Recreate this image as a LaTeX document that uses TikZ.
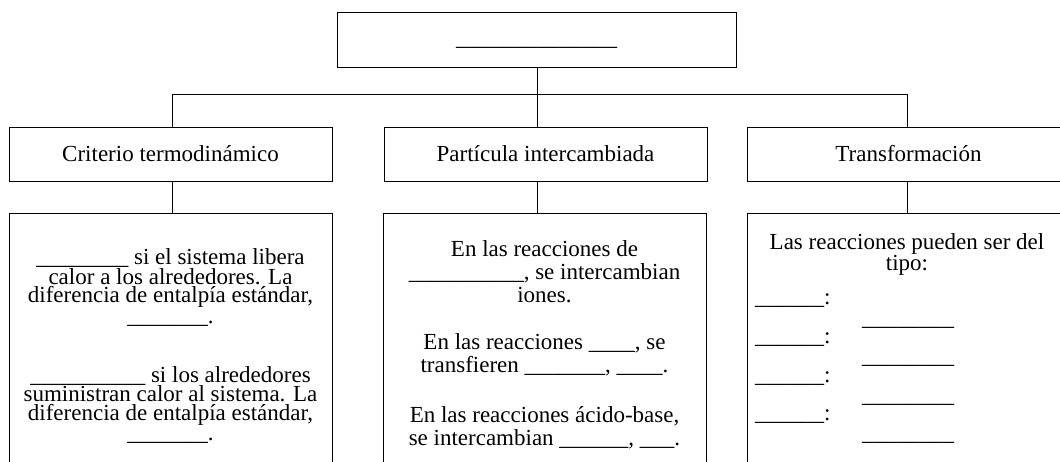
\documentclass[tikz,border=0pt]{standalone}
\usepackage{fontspec}
\setmainfont{Liberation Serif}
\usetikzlibrary{positioning}

\begin{document}
\begin{tikzpicture}[x=1pt,y=-1pt]
  \tikzset{
    caja/.style={draw,line width=0.9pt,rectangle,inner sep=0pt,
      minimum width=323pt,minimum height=54pt,text height=18pt,text depth=3pt,
      font=\fontsize{23}{23}\selectfont},
    cuerpo/.style={draw,line width=0.9pt,rectangle,inner sep=0pt,anchor=north,
      minimum width=323pt,minimum height=270pt},
    texto/.style={inner sep=0pt,align=center,font=\fontsize{23}{18.5}\selectfont},
    linea/.style={line width=0.9pt}
  }
  % a blank to be filled in, n underscores long
  \newcommand\hueco[1]{\foreach\k in {1,...,#1}{\_}}

  \useasboundingbox (0,0) rectangle (1060,462);
  \clip (0,0) rectangle (1060,462);

  % top box and the three headings
  \node[caja,minimum width=399pt,minimum height=55pt,text height=17pt,text depth=4pt]
    (titulo) at (536.5,39.5) {\hueco{14}};
  \node[caja] (etiqueta1) at (170.5,154) {Criterio termodinámico};
  \node[caja] (etiqueta2) at (545.5,154) {Partícula intercambiada};
  \node[caja] (etiqueta3) at (908.5,154) {Transformación};

  % the boxes below them, cut off by the page
  \node[cuerpo] (cuerpo1) at (170.5,213) {};
  \node[cuerpo] (cuerpo2) at (544.5,213) {};
  \node[cuerpo] (cuerpo3) at (908.5,213) {};

  % tree lines
  \coordinate (rama1) at (172,94);
  \coordinate (rama2) at (537,94);
  \coordinate (rama3) at (907,94);
  \draw[linea] (titulo.south -| rama2) -- (rama2);
  \draw[linea] (rama1) -- (rama3);
  \foreach \n in {1,2,3} {
    \draw[linea] (rama\n) -- (rama\n |- etiqueta\n.north);
    \draw[linea] (rama\n |- etiqueta\n.south) -- (rama\n |- cuerpo\n.north);
  }

  % texts
  \node[texto,anchor=north] (parrafo1) at (170.5,248)
    {\hueco{8} si el sistema libera\\ calor a los alrededores. La\\
     diferencia de entalpía estándar,\\[2pt] \hueco{7}.\\[39pt]
     \hueco{10} si los alrededores\\ suministran calor al sistema. La\\
     diferencia de entalpía estándar,\\[2pt] \hueco{7}.};
  \node[texto,font=\fontsize{23}{23}\selectfont,anchor=north] (parrafo2) at (544.5,240)
    {En las reacciones de\\ \hueco{10}, se intercambian\\ iones.\\[24pt]
     En las reacciones \hueco{4}, se\\ transfieren \hueco{7}, \hueco{4}.\\[27pt]
     En las reacciones ácido-base,\\ se intercambian \hueco{6}, \hueco{3}.};
  \node[texto,anchor=north] (parrafo3) at (907,233)
    {Las reacciones pueden ser del\\ tipo:};
  \foreach \i in {0,...,3} {
    \node[texto,anchor=base west] (izq\i) at (755,305+38.6*\i) {\hueco{6}:};
    \node[texto,anchor=base west] (der\i) at (862,325+38.6*\i) {\hueco{8}};
  }
\end{tikzpicture}
\end{document}
